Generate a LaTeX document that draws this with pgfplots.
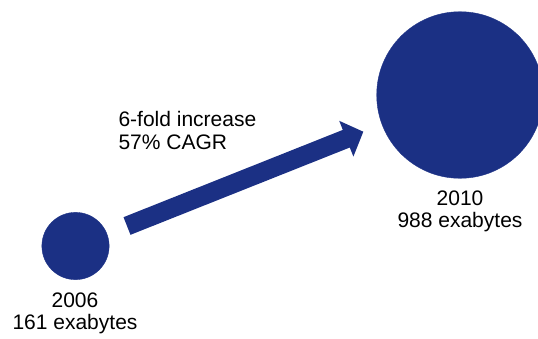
\documentclass[border=0pt]{standalone}
\usepackage{fontspec}
\setmainfont{Liberation Sans}
\usepackage{pgfplots}
\usepackage{pgfplotstable}
\pgfplotsset{compat=1.18}

\definecolor{navy}{RGB}{27,48,132}

% Digital universe size: position of each bubble (in layout units) and its value
\pgfplotstableread{
year x     y     exabytes
2006 75.5  246   161
2010 460   95    988
}\bubbles

\begin{document}
\begin{tikzpicture}[
  lbl/.style={font=\fontsize{21}{22.5}\selectfont, inner sep=0pt, text=black},
]
\begin{axis}[
  name=ax,
  width=538pt, height=338pt,
  scale only axis,
  xmin=0, xmax=538, ymin=0, ymax=338,
  y dir=reverse,
  hide axis,
  clip marker paths=true,
]
  % bubbles: area proportional to the number of exabytes
  \addplot[
    color=navy,
    scatter, only marks, mark=*,
    scatter/use mapped color={draw=navy, fill=navy},
    visualization depends on={2.65*sqrt(\thisrow{exabytes})\as\rad},
    scatter/@pre marker code/.append style={/tikz/mark size=\rad},
  ] table[x=x, y=y] {\bubbles};

  % growth arrow
  \addplot[fill=navy, draw=none] coordinates {
    (123.5,217.2) (342.8,129.9) (339.2,120.8) (363.3,131.7)
    (353.4,156.6) (349.8,147.5) (130.5,234.8)
  } -- cycle;

  \node[lbl, anchor=base west] at (axis cs:118.3,126.7) {6-fold increase};
  \node[lbl, anchor=base west] at (axis cs:118.3,149.3) {57\% CAGR};

  \node[lbl, anchor=base] at (axis cs:75,307.3) {2006};
  \node[lbl, anchor=base] at (axis cs:75,329) {161 exabytes};

  \node[lbl, anchor=base] at (axis cs:460,205) {2010};
  \node[lbl, anchor=base] at (axis cs:460,227.3) {988 exabytes};
\end{axis}
\pgfresetboundingbox
\path (ax.south west) rectangle (ax.north east);
\end{tikzpicture}
\end{document}
